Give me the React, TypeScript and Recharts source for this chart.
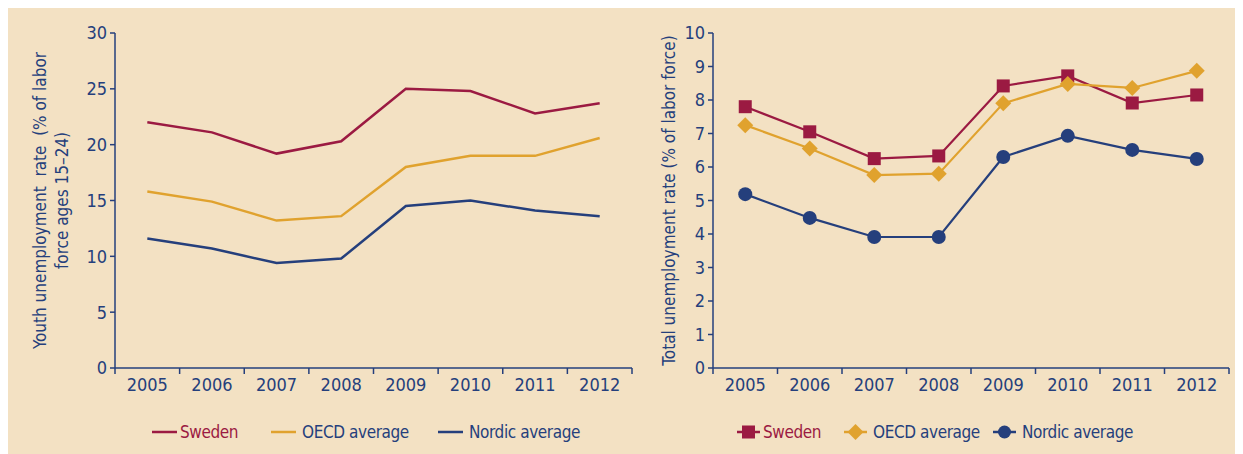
import React from 'react';
import { LineChart, Line, XAxis, YAxis, Label } from 'recharts';

const categories = ['2005', '2006', '2007', '2008', '2009', '2010', '2011', '2012'];
const youthSweden = [22.0, 21.1, 19.2, 20.3, 25.0, 24.8, 22.8, 23.7];
const youthOECD = [15.8, 14.9, 13.2, 13.6, 18.0, 19.0, 19.0, 20.6];
const youthNordic = [11.6, 10.7, 9.4, 9.8, 14.5, 15.0, 14.1, 13.6];
const totalSweden = [7.8, 7.05, 6.25, 6.33, 8.42, 8.72, 7.91, 8.15];
const totalOECD = [7.25, 6.55, 5.76, 5.8, 7.9, 8.48, 8.36, 8.87];
const totalNordic = [5.19, 4.48, 3.91, 3.91, 6.3, 6.93, 6.51, 6.24];
const youthTicks = [0, 5, 10, 15, 20, 25, 30];
const totalTicks = [0, 1, 2, 3, 4, 5, 6, 7, 8, 9, 10];
const seriesNames = ['Sweden', 'OECD average', 'Nordic average'];

const youthData = categories.map((year, i) => ({
  year,
  sweden: youthSweden[i],
  oecd: youthOECD[i],
  nordic: youthNordic[i],
}));
const totalData = categories.map((year, i) => ({
  year,
  sweden: totalSweden[i],
  oecd: totalOECD[i],
  nordic: totalNordic[i],
}));

const BG = '#f3e1c3';
const RED = '#9b1a42';
const GOLD = '#e0a22e';
const NAVY = '#253f7c';
const FONT = "'Liberation Sans Narrow', 'DejaVu Sans Condensed', 'Arial Narrow', sans-serif";
const FS = 18;

const TICK_SIZE = 6;
const TICK_MARGIN = 4;

function makeXTick(bandWidth: number) {
  return function XTick(props: any) {
    const { x, y, payload, index } = props;
    const half = payload && typeof payload.offset === 'number' && payload.offset > 0 ? payload.offset : bandWidth / 2;
    const axisY = y - TICK_MARGIN - TICK_SIZE;
    return (
      <g>
        <line x1={x - half} x2={x - half} y1={axisY} y2={axisY + TICK_SIZE} stroke={NAVY} strokeWidth={1.5} />
        {index === categories.length - 1 && (
          <line x1={x + half} x2={x + half} y1={axisY} y2={axisY + TICK_SIZE} stroke={NAVY} strokeWidth={1.5} />
        )}
        <text x={x} y={y} dy="0.71em" textAnchor="middle" fill={NAVY} fontSize={FS} fontFamily={FONT}>
          {payload.value}
        </text>
      </g>
    );
  };
}

const SquareDot = (props: any) => {
  const { cx, cy, index } = props;
  if (cx == null || cy == null) return <g key={`s${index}`} />;
  return <rect key={`s${index}`} x={cx - 6.5} y={cy - 6.5} width={13} height={13} fill={RED} />;
};
const DiamondDot = (props: any) => {
  const { cx, cy, index } = props;
  if (cx == null || cy == null) return <g key={`d${index}`} />;
  const r = 8;
  return (
    <polygon
      key={`d${index}`}
      points={`${cx},${cy - r} ${cx + r},${cy} ${cx},${cy + r} ${cx - r},${cy}`}
      fill={GOLD}
    />
  );
};
const CircleDot = (props: any) => {
  const { cx, cy, index } = props;
  if (cx == null || cy == null) return <g key={`c${index}`} />;
  return <circle key={`c${index}`} cx={cx} cy={cy} r={7} fill={NAVY} />;
};

function RotatedLabel(lines: string[], xs: number[]) {
  return (props: any) => {
    const vb = props.viewBox || {};
    const cy = (vb.y || 0) + (vb.height || 0) / 2;
    return (
      <g>
        {lines.map((t, i) => (
          <text
            key={i}
            x={xs[i]}
            y={cy}
            transform={`rotate(-90, ${xs[i]}, ${cy})`}
            textAnchor="middle"
            dominantBaseline="central"
            fill={NAVY}
            fontSize={17}
            fontFamily={FONT}
            style={{ whiteSpace: 'pre' }}
          >
            {t}
          </text>
        ))}
      </g>
    );
  };
}

function LegendIcon({ kind, color, marker }: { kind: string; color: string; marker: boolean }) {
  const w = marker ? 23 : 25;
  return (
    <svg width={w} height={16} style={{ display: 'block' }}>
      <line x1={0} x2={w} y1={8} y2={8} stroke={color} strokeWidth={2.5} />
      {marker && kind === 'square' && <rect x={w / 2 - 6.5} y={1.5} width={13} height={13} fill={color} />}
      {marker && kind === 'diamond' && (
        <polygon points={`${w / 2},0 ${w / 2 + 8},8 ${w / 2},16 ${w / 2 - 8},8`} fill={color} />
      )}
      {marker && kind === 'circle' && <circle cx={w / 2} cy={8} r={6.5} fill={color} />}
    </svg>
  );
}

function LegendRow({ lefts, marker }: { lefts: number[]; marker: boolean }) {
  const kinds = ['square', 'diamond', 'circle'];
  const colors = [RED, GOLD, NAVY];
  const textColors = [RED, NAVY, NAVY];
  return (
    <>
      {seriesNames.map((name, i) => (
        <div
          key={name}
          style={{
            position: 'absolute',
            left: lefts[i],
            top: 412,
            display: 'flex',
            alignItems: 'center',
            fontFamily: FONT,
            fontSize: 17,
            letterSpacing: -0.4,
            whiteSpace: 'nowrap',
          }}
        >
          <LegendIcon kind={kinds[i]} color={colors[i]} marker={marker} />
          <span style={{ color: textColors[i], marginLeft: i === 0 ? 3 : 6, lineHeight: '24px' }}>{name}</span>
        </div>
      ))}
    </>
  );
}

export default function App() {
  const leftBand = (624 - 107) / 8;
  const rightBand = (581 - 65) / 8;
  return (
    <div
      style={{
        width: 1235,
        height: 446,
        background: BG,
        display: 'flex',
        position: 'relative',
        fontFamily: FONT,
      }}
    >
      <div style={{ position: 'relative', width: 640, height: 446 }}>
        <LineChart width={640} height={446} data={youthData} margin={{ top: 25, right: 16, left: 0, bottom: 56 }}>
          <XAxis
            dataKey="year"
            scale="band"
            height={30}
            axisLine={{ stroke: NAVY, strokeWidth: 1.5 }}
            tickLine={false}
            tickSize={TICK_SIZE}
            tickMargin={TICK_MARGIN}
            interval={0}
            tick={makeXTick(leftBand)}
          />
          <YAxis
            width={107}
            domain={[0, 30]}
            ticks={youthTicks}
            interval={0}
            axisLine={{ stroke: NAVY, strokeWidth: 1.5 }}
            tickLine={{ stroke: NAVY, strokeWidth: 1.5 }}
            tickSize={5}
            tickMargin={3}
            tick={{ fill: NAVY, fontSize: FS, fontFamily: FONT }}
          >
            <Label content={RotatedLabel(['Youth unemployment  rate  (% of labor', 'force ages 15\u201324)'], [32, 54])} />
          </YAxis>
          <Line dataKey="sweden" stroke={RED} strokeWidth={2.5} dot={false} isAnimationActive={false} />
          <Line dataKey="oecd" stroke={GOLD} strokeWidth={2.5} dot={false} isAnimationActive={false} />
          <Line dataKey="nordic" stroke={NAVY} strokeWidth={2.5} dot={false} isAnimationActive={false} />
        </LineChart>
        <LegendRow lefts={[144, 263, 430]} marker={false} />
      </div>
      <div style={{ position: 'relative', width: 595, height: 446 }}>
        <LineChart width={595} height={446} data={totalData} margin={{ top: 25, right: 14, left: 0, bottom: 56 }}>
          <XAxis
            dataKey="year"
            scale="band"
            height={30}
            axisLine={{ stroke: NAVY, strokeWidth: 1.5 }}
            tickLine={false}
            tickSize={TICK_SIZE}
            tickMargin={TICK_MARGIN}
            interval={0}
            tick={makeXTick(rightBand)}
          />
          <YAxis
            width={65}
            domain={[0, 10]}
            ticks={totalTicks}
            interval={0}
            axisLine={{ stroke: NAVY, strokeWidth: 1.5 }}
            tickLine={{ stroke: NAVY, strokeWidth: 1.5 }}
            tickSize={5}
            tickMargin={3}
            tick={{ fill: NAVY, fontSize: FS, fontFamily: FONT }}
          >
            <Label content={RotatedLabel(['Total unemployment rate (% of labor force)'], [21])} />
          </YAxis>
          <Line dataKey="sweden" stroke={RED} strokeWidth={2.2} dot={SquareDot} isAnimationActive={false} />
          <Line dataKey="oecd" stroke={GOLD} strokeWidth={2.2} dot={DiamondDot} isAnimationActive={false} />
          <Line dataKey="nordic" stroke={NAVY} strokeWidth={2.2} dot={CircleDot} isAnimationActive={false} />
        </LineChart>
        <LegendRow lefts={[89, 196, 345]} marker={true} />
      </div>
    </div>
  );
}
